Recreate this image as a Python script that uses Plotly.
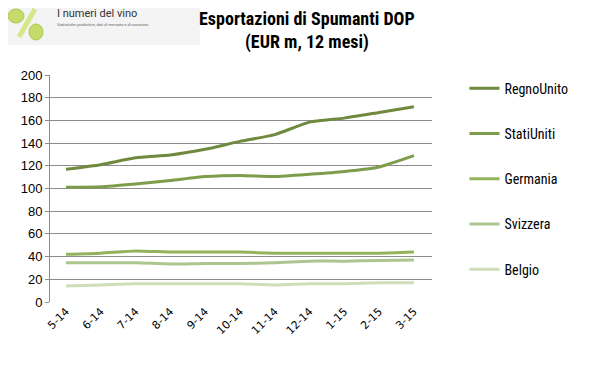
import plotly.graph_objects as go

months = ["5-14", "6-14", "7-14", "8-14", "9-14", "10-14", "11-14", "12-14", "1-15", "2-15", "3-15"]
regno_unito = [117, 121, 127, 129.5, 134.5, 141.5, 147.5, 158.5, 162, 167, 172]
stati_uniti = [101, 101.5, 104, 107, 110.5, 111.5, 110.5, 112.5, 115, 119, 129]
germania = [42, 43, 45, 44, 44, 44, 43, 43, 43, 43, 44]
svizzera = [34.5, 34.5, 34.5, 33.5, 34, 34, 34.5, 36, 36, 36.5, 37]
belgio = [14, 15, 16, 16, 16, 16, 15, 16, 16, 17, 17]

series_names = ["RegnoUnito", "StatiUniti", "Germania", "Svizzera", "Belgio"]
series_values = [regno_unito, stati_uniti, germania, svizzera, belgio]
series_colors = ["#6F8A3E", "#7E9D4A", "#93B35A", "#ADC58E", "#D0DDB9"]

font_narrow = "Liberation Sans Narrow, Arial Narrow, Roboto Condensed, Liberation Sans, sans-serif"

fig = go.Figure()
for i, (name, vals, col) in enumerate(zip(series_names, series_values, series_colors)):
    fig.add_trace(go.Scatter(
        x=months, y=vals, name=name, mode="lines",
        line=dict(color=col, width=3, shape="spline", smoothing=0.5),
        legendgroup=f"g{i}",
    ))

# page body has an 8px margin, so the figure is sized/offset to compensate
fig.update_layout(
    width=583, height=368,
    margin=dict(l=42, r=159, t=67, b=74, autoexpand=False),
    paper_bgcolor="white", plot_bgcolor="white",
    showlegend=True,
    legend=dict(
        x=1.085, y=1.01, xanchor="left", yanchor="top",
        font=dict(family=font_narrow, size=14, color="#000"),
        tracegroupgap=24, itemwidth=30, bgcolor="rgba(0,0,0,0)",
        maxheight=1,
    ),
    xaxis=dict(
        type="category", range=[-0.46, 10.52],
        showgrid=False, showline=False, zeroline=False,
        tickangle=-45, ticks="", automargin=False,
        tickfont=dict(family="DejaVu Sans, sans-serif", size=11, color="#000"),
    ),
    yaxis=dict(
        range=[0, 200], dtick=20, showgrid=True, gridcolor="#8C8C8C", gridwidth=1,
        showline=True, linecolor="#8C8C8C", linewidth=1, zeroline=False,
        ticks="outside", ticklen=4, tickcolor="#8C8C8C", automargin=False,
        tickfont=dict(family="Liberation Sans, Arial, sans-serif", size=13, color="#000"),
    ),
)

# Title as two annotation lines
fig.add_annotation(text="<b>Esportazioni di Spumanti DOP</b>", xref="paper", yref="paper",
                   x=(307 - 50) / 382, y=1 + (75 - 18) / 227, xanchor="center", yanchor="middle",
                   showarrow=False, font=dict(family=font_narrow, size=18, color="#000"))
fig.add_annotation(text="<b>(EUR m, 12 mesi)</b>", xref="paper", yref="paper",
                   x=(307 - 50) / 382, y=1 + (75 - 42) / 227, xanchor="center", yanchor="middle",
                   showarrow=False, font=dict(family=font_narrow, size=18, color="#000"))

# Logo (top-left)
fig.add_shape(type="rect", xref="paper", yref="paper", x0=-42/382, x1=150/382,
              y0=1 + 30/227, y1=1 + 67/227, fillcolor="#F4F4F4", line=dict(width=0), layer="below")
fig.add_shape(type="circle", xref="paper", yref="paper",
              x0=-42/382, x1=-26/382, y0=1 + 52/227, y1=1 + 66/227,
              fillcolor="#C5DB6A", line=dict(color="#AFC755", width=1))
fig.add_shape(type="circle", xref="paper", yref="paper",
              x0=-21/382, x1=-7/382, y0=1 + 35/227, y1=1 + 51/227,
              fillcolor="#C5DB6A", line=dict(color="#AFC755", width=1))
fig.add_shape(type="line", xref="paper", yref="paper",
              x0=-31/382, x1=-15/382, y0=1 + 38/227, y1=1 + 66/227,
              line=dict(color="#D7E68A", width=5))
fig.add_annotation(text="I numeri del vino", xref="paper", yref="paper",
                   x=5/382, y=1 + 61/227, xanchor="left", yanchor="middle", showarrow=False,
                   font=dict(family="Roboto, sans-serif", size=11, color="#333"))
fig.add_annotation(text="Statistiche produttive, dati di mercato e di consumo", xref="paper", yref="paper",
                   x=5/382, y=1 + 51/227, xanchor="left", yanchor="middle", showarrow=False,
                   font=dict(family="Roboto, sans-serif", size=4, color="#666"))

fig.write_html("out.html")
